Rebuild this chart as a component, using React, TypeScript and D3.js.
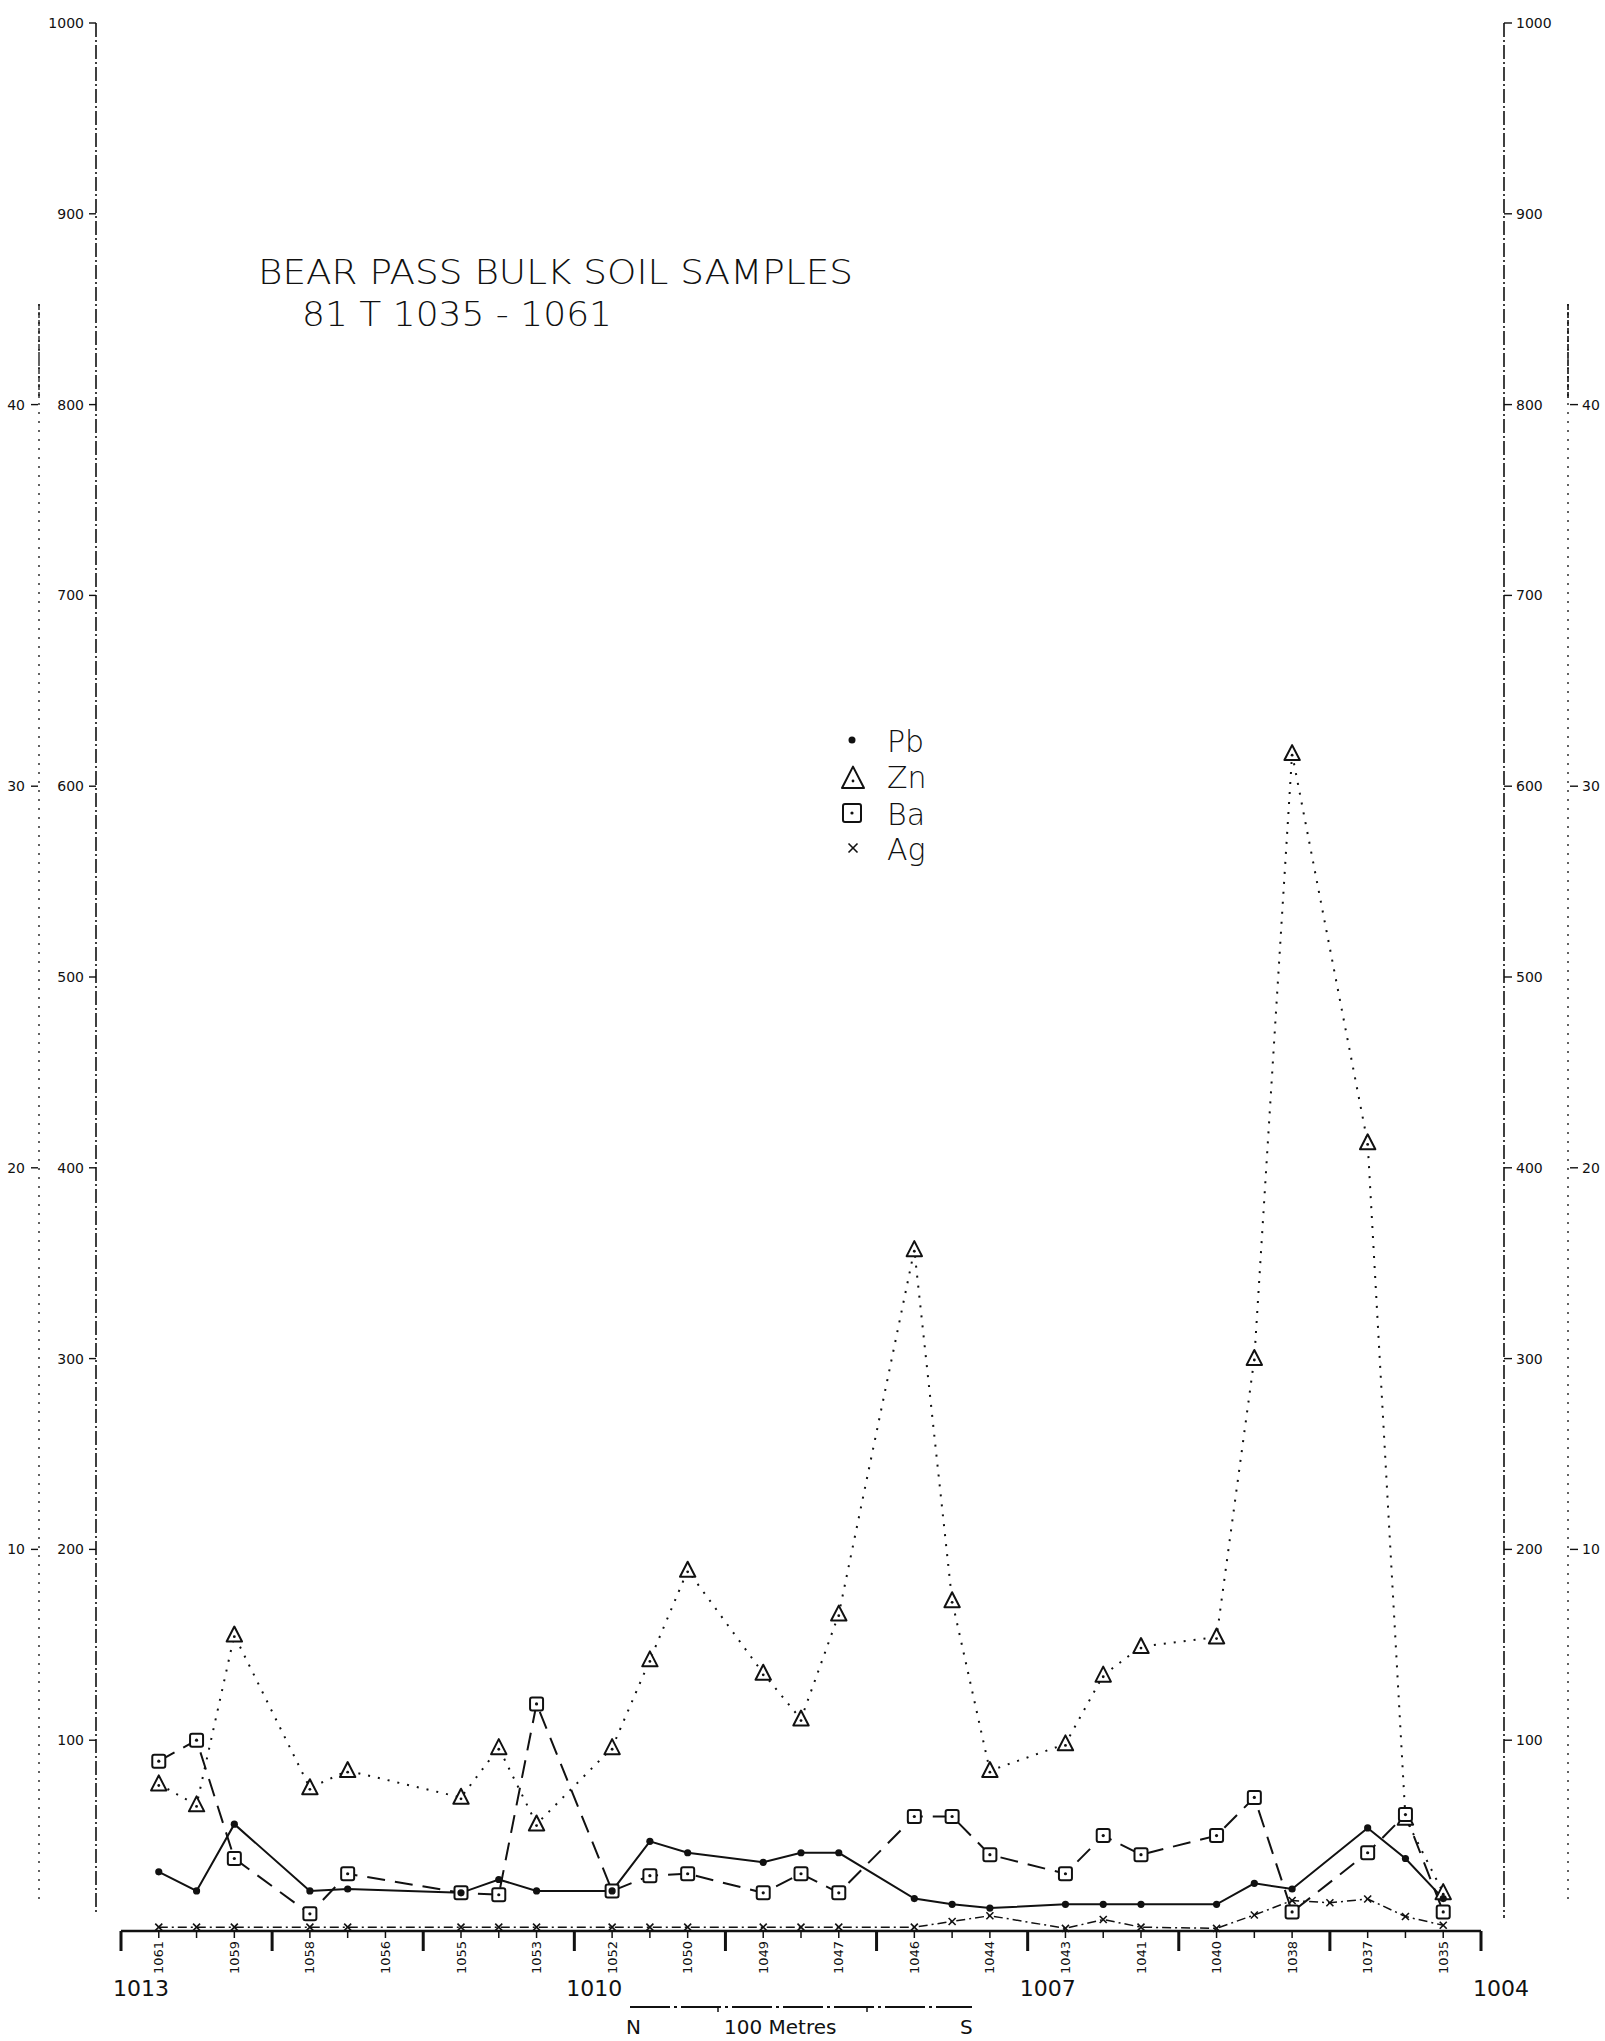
import React from "react";
import * as d3 from "d3";

// ---- data ----
// position of each sample along the traverse, in tick slots (4 slots per km marker)
const sampleSlots = [1, 2, 3, 5, 6, 9, 10, 11, 13, 14, 15, 17, 18, 19, 21, 22, 23, 25, 26, 27, 29, 30, 31, 33, 34, 35];
const sampleIds = [1061, 1060, 1059, 1058, 1057, 1055, 1054, 1053, 1052, 1051, 1050, 1049, 1048, 1047, 1046, 1045, 1044, 1043, 1042, 1041, 1040, 1039, 1038, 1037, 1036, 1035];
const pbValues = [31, 21, 56, 21, 22, 20, 27, 21, 21, 47, 41, 36, 41, 41, 17, 14, 12, 14, 14, 14, 14, 25, 22, 54, 38, 17];
const znValues = [77, 66, 155, 75, 84, 70, 96, 56, 96, 142, 189, 135, 111, 166, 357, 173, 84, 98, 134, 149, 154, 300, 617, 413, 59, 20];
const baValues = [89, 100, 38, 9, 30, 20, 19, 119, 21, 29, 30, 20, 30, 20, 60, 60, 40, 30, 50, 40, 50, 70, 10, 41, 61, 10];
// Ag is read on the secondary (0-50) scale
const agSlots = [1, 2, 3, 5, 6, 9, 10, 11, 13, 14, 15, 17, 18, 19, 21, 22, 23, 25, 26, 27, 29, 30, 31, 32, 33, 34, 35];
const agValues = [0.1, 0.1, 0.1, 0.1, 0.1, 0.1, 0.1, 0.1, 0.1, 0.1, 0.1, 0.1, 0.1, 0.1, 0.1, 0.25, 0.4, 0.07, 0.3, 0.1, 0.07, 0.42, 0.8, 0.74, 0.84, 0.38, 0.15];

// labelled ticks under the axis
const labelSlots = [1, 3, 5, 7, 9, 11, 13, 15, 17, 19, 21, 23, 25, 27, 29, 31, 33, 35];
const labelTexts = ["1061", "1059", "1058", "1056", "1055", "1053", "1052", "1050", "1049", "1047", "1046", "1044", "1043", "1041", "1040", "1038", "1037", "1035"];
const majorSlots = [0, 4, 8, 12, 16, 20, 24, 28, 32, 36];
const kmSlots = [0, 12, 24, 36];
const kmLabels = ["1013", "1010", "1007", "1004"];

const ppmTicks = [100, 200, 300, 400, 500, 600, 700, 800, 900, 1000];
const secTicks = [10, 20, 30, 40];

const legendNames = ["Pb", "Zn", "Ba", "Ag"];

const W = 1605;
const H = 2041;

export default function App() {
  const x = d3.scaleLinear().domain([0, 36]).range([121, 1481]);
  const y = d3.scaleLinear().domain([0, 1000]).range([1931, 23]);
  const y2 = d3.scaleLinear().domain([0, 50]).range([1931, 23]);

  const pts = (vals: number[], slots: number[], sc: any) =>
    vals.map((v, i) => [x(slots[i]), sc(v)] as [number, number]);
  const line = d3.line();

  const pb = pts(pbValues, sampleSlots, y);
  const zn = pts(znValues, sampleSlots, y);
  const ba = pts(baValues, sampleSlots, y);
  const ag = pts(agValues, agSlots, y2);

  const font = "'DejaVu Sans', 'Liberation Sans', sans-serif";
  const ink = "#111";
  const baseY = y(0);

  const tri = (cx: number, cy: number, s: number) =>
    `M${cx},${cy - s * 0.62} L${cx + s * 0.55},${cy + s * 0.45} L${cx - s * 0.55},${cy + s * 0.45} Z`;

  const drawTri = (cx: number, cy: number, s: number, k: string) => (
    <g key={k}>
      <path d={tri(cx, cy, s)} fill="#fff" stroke={ink} strokeWidth={2} strokeLinejoin="round" />
      <circle cx={cx} cy={cy + s * 0.1} r={1.4} fill={ink} />
    </g>
  );
  const drawSq = (cx: number, cy: number, s: number, k: string) => (
    <g key={k}>
      <rect x={cx - s / 2} y={cy - s / 2} width={s} height={s} rx={2} fill="#fff" stroke={ink} strokeWidth={2} />
      <circle cx={cx} cy={cy} r={1.6} fill={ink} />
    </g>
  );
  const drawX = (cx: number, cy: number, s: number, k: string) => (
    <g key={k} stroke={ink} strokeWidth={1.6}>
      <line x1={cx - s} y1={cy - s} x2={cx + s} y2={cy + s} />
      <line x1={cx - s} y1={cy + s} x2={cx + s} y2={cy - s} />
    </g>
  );

  return (
    <svg width={W} height={H} style={{ position: "absolute", left: 0, top: 0, background: "#fff" }} fontFamily={font}>
      <rect x={0} y={0} width={W} height={H} fill="#fff" />

      {/* left main axis */}
      <line x1={96} y1={y(1000)} x2={96} y2={1914} stroke={ink} strokeWidth={1.6} strokeDasharray="14,3,2,3" />
      {ppmTicks.map((t) => (
        <g key={"lt" + t}>
          <line x1={89} x2={96} y1={y(t)} y2={y(t)} stroke={ink} strokeWidth={1.4} />
          <text x={84} y={y(t)} dy="0.35em" fontSize={14} textAnchor="end" fill={ink}>{t}</text>
        </g>
      ))}
      {/* left secondary axis */}
      <line x1={39} y1={304} x2={39} y2={1905} stroke={ink} strokeWidth={1.3} strokeDasharray="2,7" />
      <line x1={39} y1={304} x2={39} y2={398} stroke={ink} strokeWidth={1.3} strokeDasharray="6,2" />
      {secTicks.map((t) => (
        <g key={"ls" + t}>
          <line x1={31} x2={38} y1={y2(t)} y2={y2(t)} stroke={ink} strokeWidth={1.4} />
          <text x={25} y={y2(t)} dy="0.35em" fontSize={14} textAnchor="end" fill={ink}>{t}</text>
        </g>
      ))}

      {/* right main axis */}
      <line x1={1504} y1={y(1000)} x2={1504} y2={1918} stroke={ink} strokeWidth={1.6} strokeDasharray="14,3,2,3" />
      {ppmTicks.map((t) => (
        <g key={"rt" + t}>
          <line x1={1504} x2={1512} y1={y(t)} y2={y(t)} stroke={ink} strokeWidth={1.4} />
          <text x={1516} y={y(t)} dy="0.35em" fontSize={14} textAnchor="start" fill={ink}>{t}</text>
        </g>
      ))}
      {/* right secondary axis */}
      <line x1={1568} y1={304} x2={1568} y2={1905} stroke={ink} strokeWidth={1.3} strokeDasharray="2,7" />
      <line x1={1568} y1={304} x2={1568} y2={398} stroke={ink} strokeWidth={1.6} strokeDasharray="6,2" />
      {secTicks.map((t) => (
        <g key={"rs" + t}>
          <line x1={1570} x2={1578} y1={y2(t)} y2={y2(t)} stroke={ink} strokeWidth={1.4} />
          <text x={1582} y={y2(t)} dy="0.35em" fontSize={14} textAnchor="start" fill={ink}>{t}</text>
        </g>
      ))}

      {/* x axis */}
      <line x1={x(0)} x2={x(36)} y1={baseY} y2={baseY} stroke={ink} strokeWidth={2.4} />
      {d3.range(1, 36).map((s) => (
        <line key={"mt" + s} x1={x(s)} x2={x(s)} y1={baseY} y2={baseY + 7} stroke={ink} strokeWidth={1.5} />
      ))}
      {majorSlots.map((s) => (
        <line key={"Mt" + s} x1={x(s)} x2={x(s)} y1={baseY} y2={baseY + 20} stroke={ink} strokeWidth={3} />
      ))}
      {labelSlots.map((s, i) => (
        <text
          key={"sl" + s}
          transform={`translate(${x(s)},${baseY + 10}) rotate(-90)`}
          textAnchor="end"
          dy="0.35em"
          fontSize={13}
          fill={ink}
        >
          {labelTexts[i]}
        </text>
      ))}
      {kmSlots.map((s, i) => (
        <text key={"km" + s} x={x(s) + 20} y={1996} fontSize={22} textAnchor="middle" fill={ink}>
          {kmLabels[i]}
        </text>
      ))}

      {/* series lines */}
      <path d={line(ag) || ""} fill="none" stroke={ink} strokeWidth={1.5} strokeDasharray="9,4,2,4" />
      <path d={line(zn) || ""} fill="none" stroke={ink} strokeWidth={2} strokeDasharray="2,8" />
      <path d={line(ba) || ""} fill="none" stroke={ink} strokeWidth={2} strokeDasharray="18,10" />
      <path d={line(pb) || ""} fill="none" stroke={ink} strokeWidth={2} />

      {/* markers */}
      {ag.map((p, i) => drawX(p[0], p[1], 3.5, "ag" + i))}
      {zn.map((p, i) => drawTri(p[0], p[1], 14, "zn" + i))}
      {ba.map((p, i) => drawSq(p[0], p[1], 13, "ba" + i))}
      {pb.map((p, i) => (
        <circle key={"pb" + i} cx={p[0]} cy={p[1]} r={3.6} fill={ink} />
      ))}

      {/* title */}
      <text x={258} y={284} fontSize={33} textLength={595} lengthAdjust="spacingAndGlyphs" fill={ink} fontWeight={300}>
        BEAR PASS BULK SOIL SAMPLES
      </text>
      <text x={302} y={326} fontSize={33} textLength={310} lengthAdjust="spacingAndGlyphs" fill={ink} fontWeight={300}>
        81 T 1035 - 1061
      </text>

      {/* legend */}
      <circle cx={852} cy={740} r={3.5} fill={ink} />
      {drawTri(853, 779, 20, "lgtri")}
      {drawSq(852, 813, 18, "lgsq")}
      {drawX(853, 848, 4.5, "lgx")}
      {legendNames.map((n, i) => (
        <text key={"lg" + n} x={887} y={[752, 788, 825, 860][i]} fontSize={30} fill={ink} fontWeight={300}>
          {n}
        </text>
      ))}

      {/* scale bar */}
      <line x1={630} x2={972} y1={2007} y2={2007} stroke={ink} strokeWidth={2} strokeDasharray="40,4,3,4" />
      <line x1={718} x2={718} y1={2007} y2={2012} stroke={ink} strokeWidth={1.5} />
      <line x1={867} x2={867} y1={2007} y2={2012} stroke={ink} strokeWidth={1.5} />
      <text x={626} y={2034} fontSize={20} fill={ink}>N</text>
      <text x={724} y={2034} fontSize={20} fill={ink}>100 Metres</text>
      <text x={960} y={2034} fontSize={20} fill={ink}>S</text>
    </svg>
  );
}
